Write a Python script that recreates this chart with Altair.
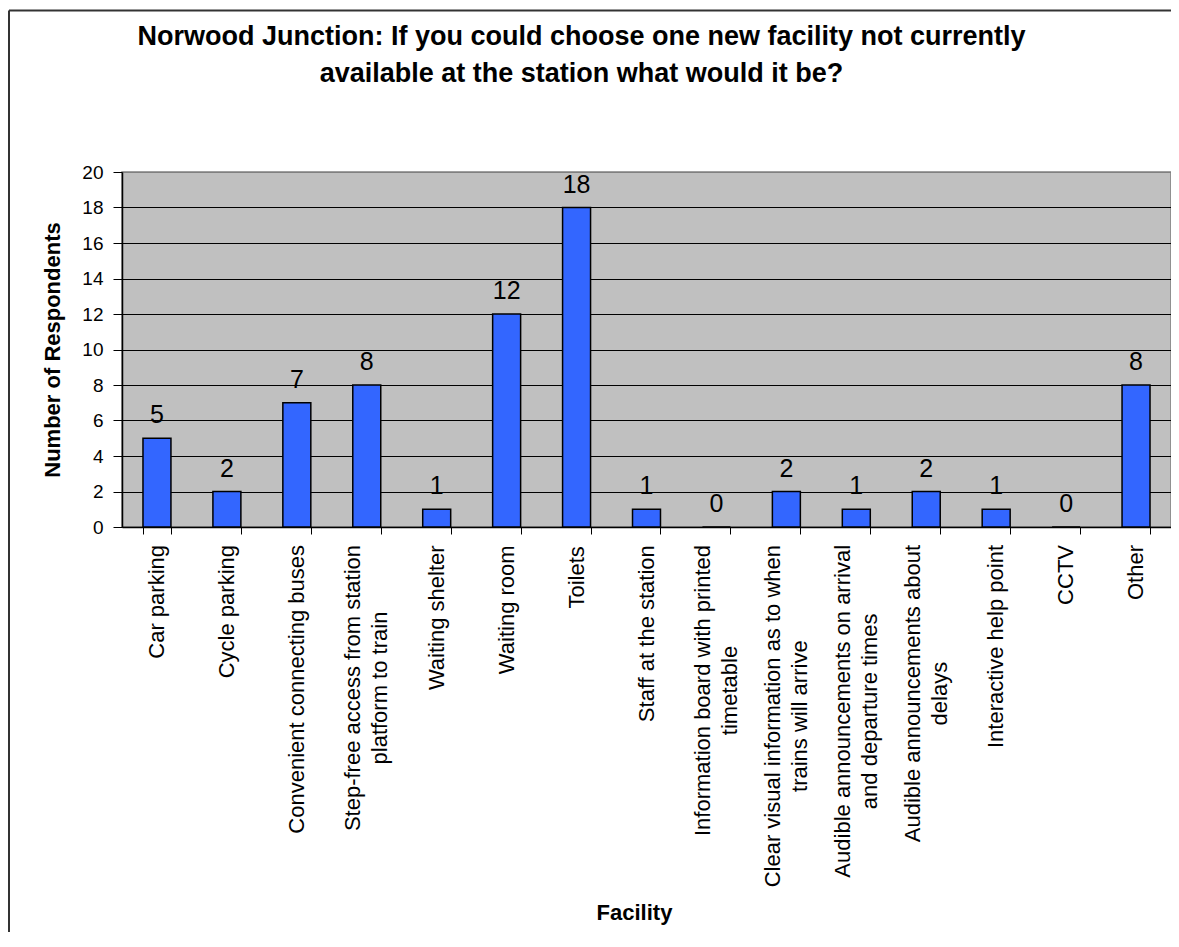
import altair as alt
import pandas as pd

FONT = "Liberation Sans, Arial, sans-serif"

title_lines = [
    "Norwood Junction: If you could choose one new facility not currently",
    "available at the station what would it be?",
]
# category names, split into the lines shown under the axis
category_lines = [
    ["Car parking"],
    ["Cycle parking"],
    ["Convenient connecting buses"],
    ["Step-free access from station", "platform to train"],
    ["Waiting shelter"],
    ["Waiting room"],
    ["Toilets"],
    ["Staff at the station"],
    ["Information board with printed", "timetable"],
    ["Clear visual information as to when", "trains will arrive"],
    ["Audible announcements on arrival", "and departure times"],
    ["Audible announcements about", "delays"],
    ["Interactive help point"],
    ["CCTV"],
    ["Other"],
]
respondents = [5, 2, 7, 8, 1, 12, 18, 1, 0, 2, 1, 2, 1, 0, 8]
y_ticks = [0, 2, 4, 6, 8, 10, 12, 14, 16, 18, 20]

PLOT_W = 1049
PLOT_H = 355
PAD_INNER = 0.6
PAD_OUTER = 0.3
LABEL_SIZE = 22
LINE_H = 27
LABEL_GAP = 18  # distance from the x axis line to the start of the labels

# Arial advance widths (1/1000 em): used to centre each rotated label block below its tick
ARIAL_W = {
    " ": 278, "a": 556, "b": 556, "c": 500, "d": 556, "e": 556, "f": 278, "g": 556,
    "h": 556, "i": 222, "j": 222, "k": 500, "l": 222, "m": 833, "n": 556, "o": 556,
    "p": 556, "q": 556, "r": 333, "s": 500, "t": 278, "u": 556, "v": 500, "w": 722,
    "x": 500, "y": 500, "z": 500, "A": 667, "C": 722, "I": 278, "O": 778, "S": 667,
    "T": 611, "V": 667, "W": 944, "-": 333,
}


def text_w(s):
    return sum(ARIAL_W.get(ch, 556) for ch in s) * LABEL_SIZE / 1000.0


n_cat = len(category_lines)
band_step = PLOT_W / (n_cat - PAD_INNER + 2 * PAD_OUTER)
half_band = band_step * (1 - PAD_INNER) / 2.0

categories = ["\n".join(l) for l in category_lines]
label_down = [LABEL_GAP + max(text_w(s) for s in l) / 2.0 for l in category_lines]
label_side = [half_band - (len(l) - 1) * LINE_H / 2.0 for l in category_lines]

df = pd.DataFrame(
    {"facility": categories, "count": respondents, "down": label_down, "side": label_side}
)

x_enc = alt.X(
    "facility:N",
    sort=None,
    scale=alt.Scale(paddingInner=PAD_INNER, paddingOuter=PAD_OUTER),
    axis=alt.Axis(
        title="Facility",
        titleFontSize=22,
        titleFontWeight="bold",
        titleColor="black",
        titleX=512,
        titleY=392,
        titleAlign="center",
        titleBaseline="alphabetic",
        labels=False,
        tickBand="extent",
        tickSize=7,
        tickColor="black",
        domainColor="black",
        domainWidth=1.5,
        grid=False,
    ),
)

y_enc = alt.Y(
    "count:Q",
    scale=alt.Scale(domain=[0, 20], nice=False),
    axis=alt.Axis(
        values=y_ticks,
        title="Number of Respondents",
        titleFontSize=22,
        titleFontWeight="bold",
        titleColor="black",
        titleX=-63,
        titleY=177.5,
        titleAngle=-90,
        titleAlign="center",
        titleBaseline="alphabetic",
        labelFontSize=19,
        labelPadding=10,
        labelColor="black",
        labelOverlap=False,
        tickSize=9,
        tickColor="black",
        domainColor="black",
        domainWidth=1.5,
        gridColor=alt.condition("datum.value == 20", alt.value("#808080"), alt.value("black")),
        gridWidth=1,
    ),
)

base = alt.Chart(df).encode(x=x_enc)

bars = base.mark_bar(color="#3366FF", stroke="black", strokeWidth=1.5).encode(y=y_enc)

values_text = base.mark_text(dy=-15, fontSize=25, baseline="alphabetic", color="black").encode(
    y=y_enc, text=alt.Text("count:Q")
)

cat_labels = base.mark_text(
    angle=270,
    align="center",
    baseline="middle",
    fontSize=LABEL_SIZE,
    lineBreak="\n",
    lineHeight=LINE_H,
    color="black",
).encode(
    y=alt.value(PLOT_H),
    yOffset=alt.YOffset("down:Q", scale=None),
    xOffset=alt.XOffset("side:Q", scale=None),
    text=alt.Text("facility:N"),
)

one = pd.DataFrame({"k": [0]})
left_border = alt.Chart(one).mark_rule(color="#333333", strokeWidth=2).encode(
    x=alt.value(-113), y=alt.value(-161.5), y2=alt.value(800)
)
top_border = alt.Chart(one).mark_rule(color="#333333", strokeWidth=2).encode(
    x=alt.value(-113), x2=alt.value(1060), y=alt.value(-161.5)
)

chart = (
    alt.layer(bars, values_text, cat_labels, left_border, top_border)
    .properties(
        width=PLOT_W,
        height=PLOT_H,
        autosize=alt.AutoSizeParams(type="none"),
        padding={"left": 114, "top": 164, "right": 0, "bottom": 405},
        title=alt.TitleParams(
            text=title_lines,
            fontSize=27,
            fontWeight="bold",
            lineHeight=37,
            anchor="middle",
            frame="group",
            dx=-65,
            offset=-78,
            color="black",
        ),
    )
    .configure(font=FONT, background="white")
    .configure_view(fill="#C0C0C0", stroke="#808080", strokeWidth=1.5)
)

chart.save("out.html", embed_options={"renderer": "svg", "actions": False})
